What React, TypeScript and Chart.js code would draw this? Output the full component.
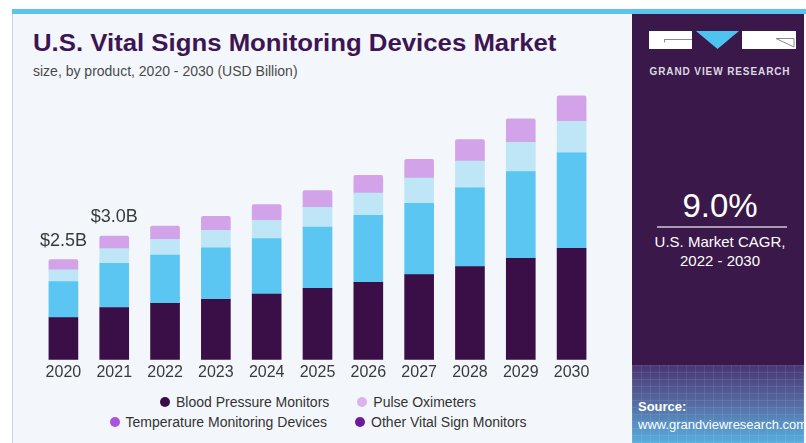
import React, { useEffect, useRef } from 'react';
import { Chart, registerables } from 'chart.js';

Chart.register(...registerables);

const years = ['2020', '2021', '2022', '2023', '2024', '2025', '2026', '2027', '2028', '2029', '2030'];
const bloodPressureMonitors = [1.04, 1.29, 1.39, 1.49, 1.62, 1.76, 1.91, 2.1, 2.3, 2.5, 2.75];
const pulseOximeters = [0.89, 1.09, 1.19, 1.27, 1.37, 1.51, 1.65, 1.76, 1.94, 2.14, 2.35];
const temperatureDevices = [0.29, 0.36, 0.39, 0.43, 0.45, 0.49, 0.55, 0.62, 0.66, 0.72, 0.78];
const otherVitalSignMonitors = [0.25, 0.31, 0.33, 0.35, 0.39, 0.41, 0.44, 0.46, 0.53, 0.58, 0.63];
const totalLabels = ['$2.5B', '$3.0B', '', '', '', '', '', '', '', '', ''];
const seriesNames = ['Blood Pressure Monitors', 'Pulse Oximeters', 'Temperature Monitoring Devices', 'Other Vital Sign Monitors'];
const barColors = ['#3a0e47', '#5bc6f2', '#bfe6f7', '#d3a3ea'];
const legendColors = ['#3a0e47', '#dab3ef', '#a855dc', '#6c1b9c'];

const FONT = '"Liberation Sans", Arial, sans-serif';

const totalLabelPlugin = {
  id: 'totalLabels',
  afterDatasetsDraw(chart: any) {
    const ctx = chart.ctx;
    const lastIdx = chart.data.datasets.length - 1;
    const meta = chart.getDatasetMeta(lastIdx);
    ctx.save();
    ctx.font = `18px ${FONT}`;
    ctx.fillStyle = '#3a3a3a';
    ctx.textAlign = 'center';
    ctx.textBaseline = 'alphabetic';
    meta.data.forEach((bar: any, i: number) => {
      const label = totalLabels[i];
      if (!label) return;
      ctx.fillText(label, bar.x, bar.y - 14);
    });
    ctx.restore();
  },
};

function BarChart() {
  const ref = useRef<HTMLCanvasElement | null>(null);
  useEffect(() => {
    if (!ref.current) return;
    const series = [bloodPressureMonitors, pulseOximeters, temperatureDevices, otherVitalSignMonitors];
    const chart = new Chart(ref.current, {
      type: 'bar',
      data: {
        labels: years,
        datasets: series.map((values, i) => ({
          label: seriesNames[i],
          data: values,
          backgroundColor: barColors[i],
          borderWidth: 0,
          borderRadius: i === series.length - 1 ? { topLeft: 2, topRight: 2, bottomLeft: 0, bottomRight: 0 } : 0,
          borderSkipped: false,
          barThickness: 29,
        })),
      },
      options: {
        responsive: false,
        animation: false,
        events: [],
        layout: { padding: { left: 38, right: 25, top: 4, bottom: 0 } },
        plugins: { legend: { display: false }, tooltip: { enabled: false } },
        scales: {
          x: {
            stacked: true,
            grid: { display: false, drawTicks: false },
            border: { display: false },
            ticks: { color: '#3a3a3a', font: { family: FONT, size: 16 }, padding: 3 },
          },
          y: {
            stacked: true,
            display: false,
            min: 0,
            max: 6.8,
          },
        },
      },
      plugins: [totalLabelPlugin],
    });
    return () => chart.destroy();
  }, []);
  return <canvas ref={ref} width={622} height={305} style={{ position: 'absolute', left: 0, top: 80 }} />;
}

function Logo() {
  return (
    <svg width={150} height={20} style={{ position: 'absolute', left: 648, top: 30 }}>
      <rect x={1} y={1} width={43} height={18} fill="#ffffff" />
      <path d="M16 9.5 L44 9.5 M16.5 9.5 L16.5 12.5" stroke="#8a8a8a" strokeWidth={1} fill="none" />
      <polygon points="48,1 91,1 69.5,19" fill="#4fc3f0" />
      <rect x={94} y={1} width={54} height={18} fill="#ffffff" />
      <path d="M128 8.5 L146 8.5 L146 17 Z" stroke="#8a8a8a" strokeWidth={1} fill="none" />
    </svg>
  );
}

export default function App() {
  const legendRows = [[0, 1], [2, 3]];
  return (
    <div style={{ position: 'fixed', left: 0, top: 0, width: 806, height: 443, background: '#ffffff', overflow: 'hidden', fontFamily: FONT }}>
      <div style={{ position: 'absolute', left: 12, top: 9, width: 794, height: 434, background: '#f3f7fb', borderLeft: '1px solid #d0d4d8', boxSizing: 'border-box' }} />
      <div style={{ position: 'absolute', left: 12, top: 9, width: 794, height: 5, background: '#5bc4ee' }} />
      <div style={{ position: 'absolute', left: 33, top: 32, fontSize: 23, lineHeight: '23px', fontWeight: 'bold', color: '#3d1552', whiteSpace: 'nowrap', transform: 'scaleX(1.12)', transformOrigin: 'left top' }}>
        U.S. Vital Signs Monitoring Devices Market
      </div>
      <div style={{ position: 'absolute', left: 33, top: 64, fontSize: 14, lineHeight: '14px', color: '#4a4a4a', whiteSpace: 'nowrap' }}>
        size, by product, 2020 - 2030 (USD Billion)
      </div>
      <BarChart />
      {legendRows.map((row, r) => (
        <div key={r} style={{ position: 'absolute', left: 0, width: 636, top: 392 + r * 20, height: 20, display: 'flex', justifyContent: 'center', alignItems: 'center', gap: 28 }}>
          {row.map((idx) => (
            <div key={idx} style={{ display: 'flex', alignItems: 'center', fontSize: 14, color: '#333333', whiteSpace: 'nowrap' }}>
              <span style={{ display: 'inline-block', width: 10, height: 10, borderRadius: 5, background: legendColors[idx], marginRight: 6 }} />
              {seriesNames[idx]}
            </div>
          ))}
        </div>
      ))}
      <div style={{ position: 'absolute', left: 632, top: 14, width: 172, height: 429, background: '#3a1849' }} />
      <div style={{
        position: 'absolute', left: 632, top: 365, width: 172, height: 78,
        background: 'repeating-linear-gradient(90deg, rgba(255,255,255,0.08) 0 1px, transparent 1px 9px), repeating-linear-gradient(0deg, rgba(255,255,255,0.08) 0 1px, transparent 1px 7px), linear-gradient(to bottom, #4a3672 0%, #55669e 45%, #57aede 100%)',
      }} />
      <Logo />
      <div style={{ position: 'absolute', left: 632, width: 176, top: 66, textAlign: 'center', fontSize: 10, lineHeight: '12px', fontWeight: 'bold', letterSpacing: 0.9, color: '#dcd8e2', whiteSpace: 'nowrap' }}>
        GRAND VIEW RESEARCH
      </div>
      <div style={{ position: 'absolute', left: 632, width: 176, top: 189, textAlign: 'center', fontSize: 33, lineHeight: '33px', color: '#ffffff' }}>
        9.0%
      </div>
      <div style={{ position: 'absolute', left: 657, top: 226, width: 130, height: 2, background: '#a99bb8' }} />
      <div style={{ position: 'absolute', left: 632, width: 176, top: 232, textAlign: 'center', fontSize: 15, lineHeight: '19px', color: '#ffffff', whiteSpace: 'nowrap' }}>
        U.S. Market CAGR,
      </div>
      <div style={{ position: 'absolute', left: 632, width: 176, top: 251, textAlign: 'center', fontSize: 15, lineHeight: '19px', color: '#ffffff', whiteSpace: 'nowrap' }}>
        2022 - 2030
      </div>
      <div style={{ position: 'absolute', left: 638, top: 399, fontSize: 13, lineHeight: '16px', fontWeight: 'bold', color: '#ffffff' }}>
        Source:
      </div>
      <div style={{ position: 'absolute', left: 638, top: 417, fontSize: 13, lineHeight: '16px', color: '#ffffff', whiteSpace: 'nowrap' }}>
        www.grandviewresearch.com
      </div>
    </div>
  );
}
